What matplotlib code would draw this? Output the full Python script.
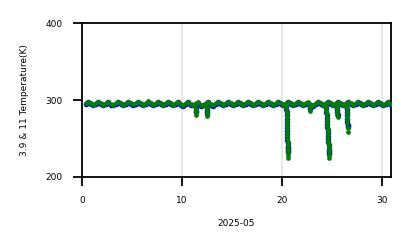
"""3.9 & 11 通道温度时间序列（2025-05）"""
import numpy as np
import matplotlib
matplotlib.use("Agg")
import matplotlib.pyplot as plt

# 常规采样：每天 4 个点（d+0.375, d+0.625, d+0.875, d+1.125）
t_base = np.arange(0.375, 31.2, 0.25)

temp11_base = [
    296, 298, 296, 294,  296, 298, 296, 294,  296, 298, 295, 294,  296, 298, 296, 294,
    296, 298, 296, 295,  296, 298, 296, 294,  296, 299, 296, 294,  296, 298, 296, 294,
    296, 298, 296, 294,  296, 298, 295, 293,  296, 298, 295, 294,  296, 297, 293, 294,
    296, 298, 295, 293,  296, 298, 296, 294,  296, 298, 296, 294,  296, 298, 296, 294,
    296, 298, 296, 294,  296, 298, 296, 294,  296, 298, 296, 294,  296, 298, 296, 294,
    296, 298, 296, 294,  296, 298, 296, 294,  296, 297, 294, 293,  296, 298, 296, 294,
    296, 298, 296, 294,  296, 298, 296, 294,  296, 298, 296, 294,  296, 298, 296, 294,
    296, 298, 296, 294,  296, 298, 296, 294,  296, 298, 295, 293,
]
temp39_base = [
    295, 297, 295, 293,  295, 297, 295, 293,  295, 297, 294, 293,  295, 297, 295, 293,
    295, 297, 295, 294,  295, 297, 295, 293,  295, 298, 295, 293,  295, 297, 295, 293,
    295, 297, 295, 293,  295, 297, 294, 292,  295, 297, 294, 293,  295, 296, 292, 293,
    295, 297, 294, 292,  295, 297, 295, 293,  295, 297, 295, 293,  295, 297, 295, 293,
    295, 297, 295, 293,  295, 297, 295, 293,  295, 297, 295, 293,  295, 297, 295, 293,
    295, 297, 295, 293,  295, 297, 295, 293,  295, 296, 293, 292,  295, 297, 295, 293,
    295, 297, 295, 293,  295, 297, 295, 293,  295, 297, 295, 293,  295, 297, 295, 293,
    295, 297, 295, 293,  295, 297, 295, 293,  295, 297, 294, 292,
]

# 降温事件（密集采样）
t_dip = [
    11.38, 11.40, 11.42, 11.44,
    12.46, 12.48, 12.50, 12.52, 12.54,
    20.44, 20.45, 20.46, 20.47, 20.48, 20.49, 20.50, 20.51, 20.52, 20.53,
    20.54, 20.55, 20.56, 20.57, 20.58, 20.59, 20.60, 20.61,
    22.78, 22.80, 22.82,
    24.40, 24.42, 24.44, 24.46, 24.48, 24.50, 24.52, 24.54, 24.56, 24.58,
    24.60, 24.62, 24.64, 24.66, 24.68, 24.70, 24.72, 24.74,
    25.48, 25.50, 25.52, 25.54, 25.56,
    26.44, 26.46, 26.48, 26.50, 26.52, 26.54, 26.56, 26.58,
]
temp11_dip = [
    290, 287, 284, 281,
    291, 288, 285, 282, 279,
    293, 289, 285, 281, 277, 273, 269, 265, 261, 257,
    253, 249, 245, 241, 237, 233, 229, 225,
    292, 289, 286,
    293, 290, 286, 282, 278, 274, 270, 266, 262, 258,
    254, 250, 246, 242, 238, 234, 229, 225,
    292, 288, 284, 281, 278,
    293, 289, 285, 280, 275, 270, 264, 258,
]
temp39_dip = [
    291, 289, 286, 284,
    292, 290, 287, 285, 282,
    292, 288, 284, 280, 276, 272, 268, 264, 260, 256,
    252, 248, 244, 240, 238, 236, 234, 232,
    293, 290, 288,
    292, 289, 285, 281, 277, 273, 269, 265, 261, 257,
    253, 249, 245, 241, 237, 234, 232, 230,
    293, 290, 287, 284, 281,
    292, 288, 284, 280, 276, 272, 268, 265,
]

xticks = [0, 10, 20, 30]
yticks = [200, 300, 400]


def main():
    plt.rcParams["font.family"] = ["DejaVu Sans"]
    fig = plt.figure(figsize=(4.11, 2.48), dpi=100)
    ax = fig.add_axes([0.1995, 0.2863, 0.7518, 0.6207])

    t39 = np.concatenate([t_base, t_dip])
    v39 = np.concatenate([temp39_base, temp39_dip])
    t11 = np.concatenate([t_base, t_dip])
    v11 = np.concatenate([temp11_base, temp11_dip])

    ax.plot(t39, v39, "o", color="blue", ms=4.0, mew=0, zorder=3)
    ax.plot(t11, v11, "o", color="green", ms=3.4, mew=0, zorder=4)

    ax.set_xlim(0, 30.9)
    ax.set_ylim(200, 400)
    ax.set_xticks(xticks)
    ax.set_yticks(yticks)
    ax.grid(True, axis="x", color="#e8e8e8", linewidth=1.5, zorder=0)
    ax.set_axisbelow(True)
    for s in ax.spines.values():
        s.set_linewidth(1.3)
    ax.tick_params(direction="out", length=6.5, width=1.3, pad=7.5, labelsize=6.5)
    ax.set_xlabel("2025-05", fontsize=6.5, labelpad=9.5)
    ax.set_ylabel("3.9 & 11 Temperature(K)", fontsize=6.5, labelpad=12)

    fig.savefig("out.png", dpi=100)


if __name__ == "__main__":
    main()
